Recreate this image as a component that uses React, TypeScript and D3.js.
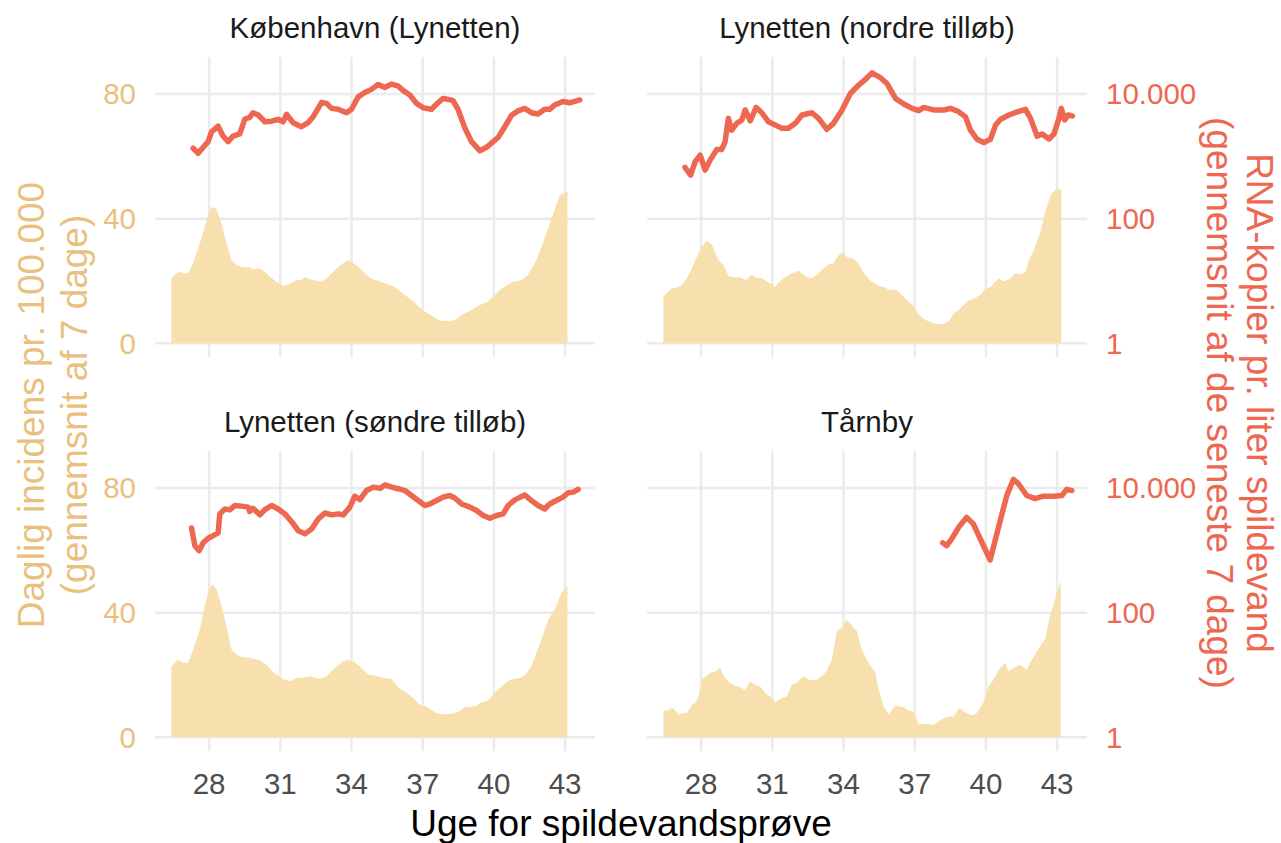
import React from 'react';
import * as d3 from 'd3';

// ---------- axis / label data ----------
const WEEK_TICKS = [28, 31, 34, 37, 40, 43];
const INC_TICKS = [0, 40, 80];
const RNA_TICKS = [1, 100, 10000];
const PANEL_TITLES = ['København (Lynetten)', 'Lynetten (nordre tilløb)', 'Lynetten (søndre tilløb)', 'Tårnby'];

// ---------- København (Lynetten) ----------
const kbhIncWeeks = [26.41,26.63,26.77,26.91,27.12,27.33,27.61,27.82,28.03,28.17,28.31,28.52,28.73,28.94,29.15,29.43,29.71,29.85,30.13,30.35,30.56,30.77,31.12,31.40,31.68,31.89,32.03,32.25,32.52,32.74,32.95,33.16,33.44,33.65,33.85,34.00,34.28,34.49,34.84,35.12,35.47,35.75,36.17,36.60,37.02,37.44,37.72,38.14,38.42,38.70,39.06,39.41,39.76,39.97,40.32,40.74,41.16,41.44,41.79,42.14,42.50,42.78,43.10];
const kbhInc = [20.8,22.5,23.0,22.5,22.5,25.7,32.1,37.4,42.8,43.8,43.0,38.5,32.1,26.7,25.1,24.4,24.4,23.8,24.0,23.0,21.4,20.1,18.4,19.0,20.3,20.3,21.2,20.6,20.1,19.8,20.8,22.5,24.4,25.7,26.7,26.2,24.6,23.0,20.6,20.1,19.0,18.4,16.0,13.4,10.5,8.5,7.3,7.1,7.7,9.4,10.7,12.3,13.4,15.0,17.6,19.5,20.3,21.9,26.7,33.7,41.7,47.6,48.7];
const kbhRnaWeeks = [27.33,27.54,27.75,27.96,28.10,28.38,28.59,28.80,29.01,29.29,29.50,29.71,29.85,30.07,30.35,30.63,30.91,31.12,31.26,31.54,31.89,32.17,32.38,32.74,32.95,33.16,33.44,33.79,34.00,34.28,34.56,34.84,35.12,35.40,35.68,35.96,36.18,36.46,36.74,37.02,37.37,37.58,37.86,38.07,38.28,38.50,38.78,39.06,39.41,39.69,39.97,40.18,40.46,40.74,41.02,41.30,41.58,41.86,42.14,42.35,42.56,42.91,43.19,43.62];
const kbhRna = [1350,1120,1400,1720,2480,3050,2110,1720,2110,2290,3940,4220,5010,4620,3590,3670,3940,3590,4730,3470,2990,3470,4310,7330,7080,5890,5690,5010,5690,9020,10590,11890,14290,12740,14450,13490,11350,9660,7080,6030,5690,6920,8510,8220,7850,5560,2820,1720,1230,1400,1720,2020,2990,4570,5370,5890,5010,4790,5690,5690,6680,7590,7240,8040];

// ---------- Lynetten (nordre tilløb) ----------
const norIncWeeks = [26.41,26.55,26.76,26.97,27.18,27.40,27.61,27.82,28.03,28.24,28.45,28.73,28.94,29.15,29.36,29.65,29.86,30.00,30.14,30.28,30.56,30.77,30.98,31.12,31.26,31.54,31.83,32.11,32.32,32.46,32.67,32.88,33.16,33.37,33.58,33.79,33.94,34.15,34.43,34.64,34.85,35.13,35.48,35.76,35.90,36.19,36.40,36.68,36.96,37.17,37.45,37.80,38.15,38.44,38.65,38.86,39.21,39.49,39.77,39.98,40.19,40.41,40.55,40.76,41.04,41.25,41.46,41.67,41.81,42.02,42.30,42.52,42.73,42.94,43.18];
const norInc = [15.0,16.0,17.6,17.9,18.7,20.9,24.1,27.8,31.0,32.9,31.6,26.7,25.1,21.6,21.2,21.2,20.3,20.9,22.1,21.2,20.9,19.8,19.0,18.0,19.5,21.2,22.5,23.3,21.9,21.2,20.9,21.9,24.1,25.3,25.7,28.3,29.1,27.6,27.1,25.5,22.5,20.1,18.4,17.9,17.1,17.3,16.0,13.7,12.0,9.1,7.5,6.4,6.1,7.0,9.6,10.7,13.4,14.4,15.5,17.6,18.0,19.8,20.9,19.8,20.9,22.5,22.1,23.0,26.7,29.9,35.8,42.8,47.6,49.4,49.4];
const norRnaWeeks = [27.32,27.56,27.75,27.96,28.17,28.38,28.66,28.87,29.01,29.15,29.29,29.50,29.72,29.86,30.07,30.32,30.56,30.84,31.12,31.40,31.68,31.97,32.25,32.67,32.95,33.30,33.58,33.94,34.29,34.64,34.92,35.20,35.55,35.83,36.19,36.54,36.89,37.17,37.38,37.80,38.23,38.51,38.86,39.14,39.35,39.63,39.91,40.19,40.41,40.62,40.97,41.32,41.67,41.88,42.16,42.37,42.66,42.87,43.08,43.18,43.32,43.46,43.64];
const norRna = [668,501,822,1047,603,871,1288,1288,1720,4074,2630,3388,3846,5560,3715,6095,5010,3590,3200,2820,2820,3390,4620,5010,4070,2720,3390,5560,10230,13960,17180,21880,18410,14790,8510,6920,5890,5430,6100,5560,5560,5890,5190,4310,2630,1880,1660,1880,3200,3940,4620,5190,5690,4070,2110,2290,1905,2290,4070,5890,3850,4620,4470];

// ---------- Lynetten (søndre tilløb) ----------
const sonIncWeeks = [26.41,26.69,26.91,27.12,27.33,27.61,27.82,28.00,28.14,28.31,28.52,28.73,28.94,29.15,29.36,29.71,30.13,30.41,30.77,31.12,31.40,31.69,31.97,32.25,32.67,32.95,33.30,33.65,33.86,34.14,34.35,34.70,35.12,35.33,35.68,35.96,36.31,36.60,36.88,37.16,37.58,37.86,38.14,38.49,38.78,39.20,39.48,39.76,39.97,40.25,40.67,41.09,41.30,41.58,41.79,42.00,42.29,42.57,42.85,43.10];
const sonInc = [22.8,24.9,23.9,23.9,28.2,34.6,42.2,47.5,49.1,47.5,42.2,35.7,28.2,26.6,25.8,25.5,24.7,23.3,20.4,18.7,18.0,19.0,19.2,19.6,18.7,19.6,22.3,24.4,24.9,24.1,22.8,20.1,19.6,19.0,18.8,16.1,14.4,12.6,10.4,9.9,7.7,7.4,7.4,8.1,9.7,9.9,11.2,11.8,13.7,15.8,18.5,19.0,19.8,22.8,27.1,31.4,37.8,41.1,46.5,48.4];
const sonRnaWeeks = [27.26,27.40,27.58,27.75,27.96,28.17,28.38,28.45,28.66,28.87,29.08,29.36,29.64,29.71,29.85,30.14,30.35,30.63,30.91,31.19,31.48,31.76,32.04,32.32,32.60,32.88,33.16,33.44,33.65,33.93,34.14,34.35,34.63,34.92,35.20,35.41,35.69,35.97,36.25,36.53,36.81,37.09,37.30,37.58,37.86,38.14,38.35,38.64,38.99,39.27,39.55,39.83,40.11,40.39,40.60,40.88,41.30,41.58,41.86,42.14,42.35,42.63,42.91,43.13,43.34,43.55];
const sonRna = [2290,1190,990,1320,1570,1720,1905,3850,4620,4470,5250,5130,4950,4220,4730,3715,4520,5250,4620,3850,2880,2065,1840,2210,3200,3980,3715,3850,3715,4950,7410,6530,9120,10350,9890,11220,10350,9770,9120,7590,6310,5250,5560,6310,7160,7590,6920,5560,4950,4370,3630,3270,3630,3850,5250,6460,7760,6310,5250,4620,5560,6310,7160,8410,8610,9550];

// ---------- Tårnby ----------
const taaIncWeeks = [26.41,26.62,26.76,26.83,27.04,27.19,27.40,27.61,27.75,27.89,28.03,28.17,28.38,28.59,28.80,29.01,29.22,29.43,29.64,29.85,30.06,30.28,30.49,30.70,30.91,31.12,31.33,31.61,31.82,32.03,32.31,32.59,32.87,33.08,33.29,33.51,33.72,33.93,34.14,34.35,34.56,34.77,35.05,35.34,35.48,35.69,35.90,36.17,36.53,36.74,36.95,37.16,37.51,37.79,38.07,38.35,38.63,38.88,39.12,39.40,39.61,39.90,40.11,40.32,40.53,40.81,40.95,41.16,41.44,41.72,41.86,42.07,42.28,42.49,42.70,42.96,43.15];
const taaInc = [8.6,8.6,9.4,9.4,7.2,7.7,7.7,10.4,11.0,13.1,18.5,19.4,20.6,21.0,22.3,19.0,17.4,16.6,16.1,15.1,18.0,16.9,16.3,14.2,13.1,11.2,12.3,13.1,16.9,17.4,19.6,18.3,18.5,19.6,21.2,24.9,34.1,35.2,37.8,35.9,34.1,28.2,23.9,20.9,15.3,9.9,7.2,10.1,9.7,8.5,8.3,4.3,4.3,4.0,5.4,6.5,6.7,9.4,8.0,7.0,7.7,11.2,16.3,18.5,21.5,23.9,21.2,22.3,23.3,21.7,23.9,26.6,29.2,31.4,38.9,45.4,50.2];
const taaRnaWeeks = [38.18,38.35,38.56,38.85,39.19,39.47,39.83,40.18,40.53,40.88,41.16,41.37,41.72,42.07,42.42,42.85,43.20,43.41,43.62];
const taaRna = [1320,1190,1530,2340,3390,2660,1350,700,2340,7590,13800,11750,7590,6760,7410,7410,7590,9550,9120];

const PANELS = [
  { title: PANEL_TITLES[0], incW: kbhIncWeeks, inc: kbhInc, rnaW: kbhRnaWeeks, rna: kbhRna },
  { title: PANEL_TITLES[1], incW: norIncWeeks, inc: norInc, rnaW: norRnaWeeks, rna: norRna },
  { title: PANEL_TITLES[2], incW: sonIncWeeks, inc: sonInc, rnaW: sonRnaWeeks, rna: sonRna },
  { title: PANEL_TITLES[3], incW: taaIncWeeks, inc: taaInc, rnaW: taaRnaWeeks, rna: taaRna },
];

const FONT = "'Liberation Sans', Arial, Helvetica, sans-serif";
const INC_COLOR = '#EAC07E';
const AREA_COLOR = '#F7DFAE';
const RNA_COLOR = '#ED6751';
const GRID = '#EBEBEB';

const daLocale = d3.formatLocale({ decimal: ',', thousands: '.', grouping: [3], currency: ['', ' kr.'] });
const fmtRna = daLocale.format(',d');

type Pt = [number, number];
const zip = (a: number[], b: number[]): Pt[] => a.slice(0, Math.min(a.length, b.length)).map((v, i) => [v, b[i]] as Pt);

export default function App() {
  React.useEffect(() => { document.body.style.margin = '0'; }, []);
  const W = 1281, H = 843;
  const panelW = 440, panelH = 300;
  const colX = [155, 647];
  const rowY = [57, 451];
  const tickFs = 29.5;
  const titleFs = 37;

  const rnaToInc = d3.scaleLog().domain([1, 10000]).range([0, 80]);

  return (
    <svg width={W} height={H} style={{ position: 'absolute', left: 0, top: 0, background: '#fff' }} fontFamily={FONT}>
      {PANELS.map((p, i) => {
        const col = i % 2, row = Math.floor(i / 2);
        const x0 = colX[col], y0 = rowY[row];
        const x = d3.scaleLinear().domain([25.72, 44.26]).range([x0, x0 + panelW]);
        const y = d3.scaleLinear().domain([-4.4, 91.9]).range([y0 + panelH, y0]);
        const area = d3.area<Pt>().x(d => x(d[0])).y0(y(0)).y1(d => y(d[1]));
        const line = d3.line<Pt>().x(d => x(d[0])).y(d => y(rnaToInc(d[1])));
        return (
          <g key={i}>
            {INC_TICKS.map(t => (
              <line key={'h' + t} x1={x0} x2={x0 + panelW} y1={y(t)} y2={y(t)} stroke={GRID} strokeWidth={2.5} />
            ))}
            {WEEK_TICKS.map(t => (
              <line key={'v' + t} x1={x(t)} x2={x(t)} y1={y0} y2={y0 + panelH} stroke={GRID} strokeWidth={2.5} />
            ))}
            <path d={area(zip(p.incW, p.inc)) || ''} fill={AREA_COLOR} />
            <path d={line(zip(p.rnaW, p.rna)) || ''} fill="none" stroke={RNA_COLOR} strokeWidth={5.5} strokeLinejoin="round" strokeLinecap="round" />
            <text x={x0 + panelW / 2} y={y0 - 18.7} textAnchor="middle" fontSize={tickFs} fill="#1A1A1A">{p.title}</text>
            {col === 0 && INC_TICKS.map(t => (
              <text key={'yl' + t} x={136} y={y(t)} dy="0.35em" textAnchor="end" fontSize={tickFs} fill={INC_COLOR}>{t}</text>
            ))}
            {col === 1 && RNA_TICKS.map(t => (
              <text key={'yr' + t} x={1106} y={y(rnaToInc(t))} dy="0.35em" textAnchor="start" fontSize={tickFs} fill={RNA_COLOR}>{fmtRna(t)}</text>
            ))}
            {row === 1 && WEEK_TICKS.map(t => (
              <text key={'xl' + t} x={x(t)} y={y0 + panelH + 43} textAnchor="middle" fontSize={tickFs} fill="#4D4D4D">{t}</text>
            ))}
          </g>
        );
      })}
      <text x={621} y={836} textAnchor="middle" fontSize={titleFs} fill="#000">Uge for spildevandsprøve</text>
      <g fill={INC_COLOR} fontSize={titleFs}>
        <text transform="translate(44,405) rotate(-90)" textAnchor="middle">Daglig incidens pr. 100.000</text>
        <text transform="translate(87,405) rotate(-90)" textAnchor="middle">(gennemsnit af 7 dage)</text>
      </g>
      <g fill={RNA_COLOR} fontSize={titleFs}>
        <text transform="translate(1247,403) rotate(90)" textAnchor="middle">RNA-kopier pr. liter spildevand</text>
        <text transform="translate(1207,403) rotate(90)" textAnchor="middle">(gennemsnit af de seneste 7 dage)</text>
      </g>
    </svg>
  );
}
